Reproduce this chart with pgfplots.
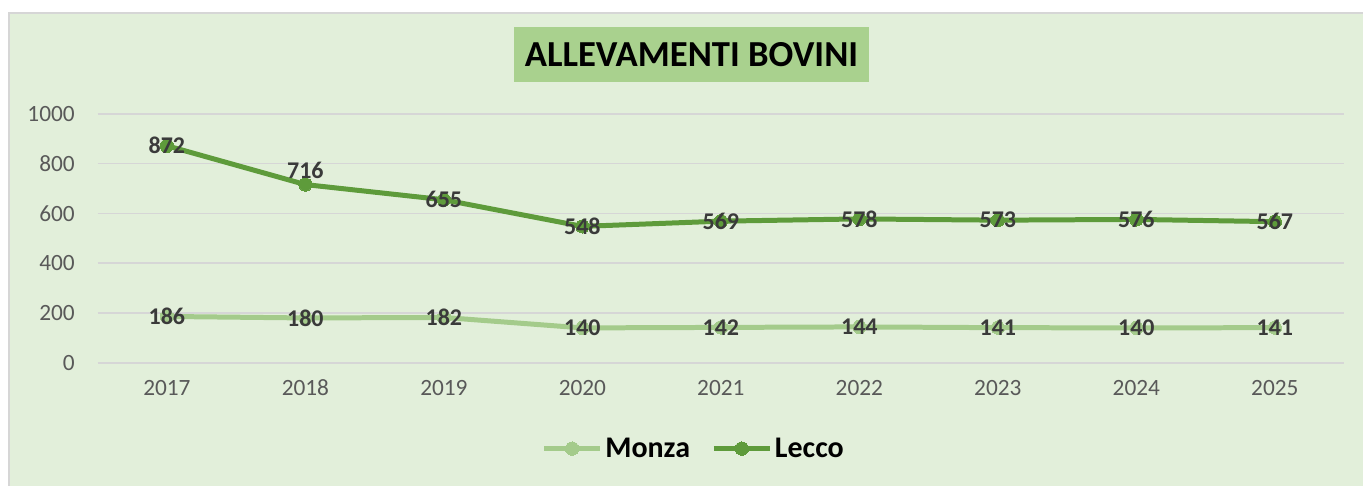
\documentclass[border=0pt]{standalone}
\usepackage{pgfplots}
\usepackage{pgfplotstable}
\pgfplotsset{compat=1.18}
\usepackage{fontspec}
\setmainfont{Carlito}
\definecolor{bgc}{HTML}{E2EFDA}
\definecolor{titlec}{HTML}{A9D18E}
\definecolor{monzac}{HTML}{A4CB8B}
\definecolor{leccoc}{HTML}{5E9B3B}
\definecolor{gridc}{HTML}{D6D6D6}
\definecolor{tickc}{HTML}{595959}
\definecolor{labc}{HTML}{3A3A3A}

\pgfplotstableread{
x year val dy
0 2017 186 0
1 2018 180 0
2 2019 182 0
3 2020 140 0
4 2021 142 0
5 2022 144 0
6 2023 141 0
7 2024 140 0
8 2025 141 0
}\monza
\pgfplotstableread{
x year val dy
0 2017 872 0
1 2018 716 11
2 2019 655 0
3 2020 548 0
4 2021 569 0
5 2022 578 0
6 2023 573 0
7 2024 576 0
8 2025 567 0
}\lecco

\begin{document}
\begin{tikzpicture}
% canvas
\fill[white] (0pt,0pt) rectangle (1023pt,364.5pt);
\fill[bgc] (6pt,0pt) rectangle (1023pt,355.5pt);
\draw[gridc, line width=1.5pt] (6.75pt,0pt) -- (6.75pt,354.75pt) -- (1023pt,354.75pt);
\begin{axis}[
  at={(73.3pt,92.25pt)}, anchor=south west,
  scale only axis,
  width=935.5pt, height=186.75pt,
  xmin=-0.5, xmax=8.5, ymin=0, ymax=1000,
  xtick={0,...,8},
  xticklabels={2017,2018,2019,2020,2021,2022,2023,2024,2025},
  ytick={0,200,400,600,800,1000},
  ymajorgrids, grid style={gridc, line width=1.2pt},
  axis line style={draw=none},
  major tick length=0pt,
  tick label style={font=\fontsize{17.5}{20}\selectfont, text=tickc, inner sep=0pt},
  /pgf/number format/assume math mode=true,
  /pgf/number format/.cd, 1000 sep={}, /pgfplots/.cd,
  yticklabel shift=17pt,
  xticklabel shift=12.75pt,
  clip=false,
  nodes near coords,
  point meta=explicit,
  nodes near coords align={center},
  visualization depends on={\thisrow{dy} \as \dy},
  every node near coord/.append style={font=\bfseries\fontsize{18}{20}\selectfont, text=labc, anchor=center, yshift=\dy pt, inner sep=0pt},
  legend columns=2,
  legend style={at={(rel axis cs:0.4785,-0.345)}, anchor=center, draw=none, fill=none,
    font=\bfseries\fontsize{22.5}{26}\selectfont, text=black,
    /tikz/every even column/.append style={column sep=14pt},
    inner sep=0pt},
  legend image code/.code={\draw[mark repeat=2,mark phase=2] plot coordinates {(0pt,0pt) (21pt,0pt) (42pt,0pt)};},
]
\addplot[monzac, line width=3.75pt, mark=*, mark size=5pt, mark options={fill=monzac, draw=monzac, line width=0pt}] table[x=x, y=val, meta=val] {\monza};
\addlegendentry{Monza}
\addplot[leccoc, line width=3.75pt, mark=*, mark size=5pt, mark options={fill=leccoc, draw=leccoc, line width=0pt}] table[x=x, y=val, meta=val] {\lecco};
\addlegendentry{Lecco}
\end{axis}
\node[fill=titlec, minimum width=267pt, minimum height=41.25pt, inner sep=0pt, font=\bfseries\fontsize{27.5}{32}\selectfont] at (519pt,323.25pt) {ALLEVAMENTI BOVINI};
\end{tikzpicture}
\end{document}
